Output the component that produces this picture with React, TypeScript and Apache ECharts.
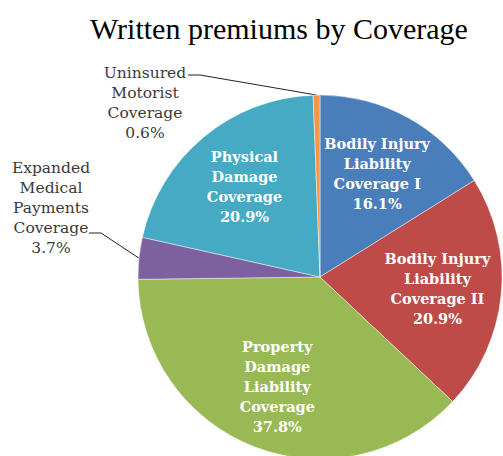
import React, { useEffect, useRef } from "react";
import * as echarts from "echarts";

const titleText = "Written premiums by Coverage";
const categories = [
  "Bodily Injury\nLiability\nCoverage I",
  "Bodily Injury\nLiability\nCoverage II",
  "Property\nDamage\nLiability\nCoverage",
  "Expanded\nMedical\nPayments\nCoverage",
  "Physical\nDamage\nCoverage",
  "Uninsured\nMotorist\nCoverage",
];
const values = [16.1, 20.9, 37.8, 3.7, 20.9, 0.6];
const colors = ["#4A7EBB", "#BE4B48", "#98B954", "#7D60A0", "#46AAC5", "#F79646"];

// label placement for the small slices whose labels sit outside the pie
const outsideLabels: Record<number, { x: number; y: number; bend: number[]; end: number[] }> = {
  3: { x: 51, y: 208, bend: [101, 233], end: [89, 233] },
  5: { x: 145, y: 103, bend: [200, 75], end: [188, 75] },
};

const SERIF = "'DejaVu Serif', serif";
const TITLE_FONT = "'Liberation Serif', 'Times New Roman', serif";

const fmt = (p: any) => `${p.name}\n${Number(p.value).toFixed(1)}%`;

export default function App() {
  const ref = useRef<HTMLDivElement>(null);
  useEffect(() => {
    if (!ref.current) return;
    const chart = echarts.init(ref.current, undefined, { renderer: "svg" });
    const center = [320, 277];
    chart.setOption({
      animation: false,
      backgroundColor: "#ffffff",
      title: {
        text: titleText,
        left: 85,
        top: 8,
        textStyle: {
          fontFamily: TITLE_FONT,
          fontSize: 30,
          fontWeight: "normal",
          color: "#000000",
        },
      },
      series: [
        {
          type: "pie",
          center,
          radius: 182,
          startAngle: 90,
          clockwise: true,
          avoidLabelOverlap: false,
          emphasis: { disabled: true },
          itemStyle: { borderColor: "rgba(255,255,255,0.55)", borderWidth: 0.8 },
          label: { show: false },
          labelLine: { show: false },
          data: categories.map((name, i) => {
            const isOut = outsideLabels[i] != null;
            return {
              name,
              value: values[i],
              itemStyle: { color: colors[i] },
              label: isOut
                ? {
                    show: true,
                    position: "outside",
                    formatter: fmt,
                    color: "#3a3a3a",
                    fontFamily: SERIF,
                    fontSize: 15.5,
                    lineHeight: 20,
                    align: "center",
                  }
                : { show: false },
              labelLine: isOut
                ? { show: true, length: 10, length2: 10, lineStyle: { color: "#222222", width: 1 } }
                : { show: false },
            };
          }),
          labelLayout: (params: any) => {
            const cfg = outsideLabels[params.dataIndex];
            if (!cfg) return {};
            const p0 = params.labelLinePoints ? params.labelLinePoints[0] : cfg.bend;
            return {
              x: cfg.x,
              y: cfg.y,
              align: "center",
              verticalAlign: "middle",
              labelLinePoints: [p0, cfg.bend, cfg.end],
            };
          },
        },
        {
          type: "pie",
          center,
          radius: 230,
          startAngle: 90,
          clockwise: true,
          silent: true,
          avoidLabelOverlap: false,
          emphasis: { disabled: true },
          itemStyle: { color: "rgba(0,0,0,0)", borderWidth: 0 },
          labelLine: { show: false },
          label: {
            show: true,
            position: "inside",
            formatter: fmt,
            color: "#ffffff",
            fontFamily: SERIF,
            fontWeight: "bold",
            fontSize: 14.5,
            lineHeight: 20,
            align: "center",
          },
          data: categories.map((name, i) => ({
            name,
            value: values[i],
            label: { show: outsideLabels[i] == null },
          })),
        },
      ],
    });
    return () => chart.dispose();
  }, []);
  return (
    <div
      ref={ref}
      style={{ position: "fixed", left: 0, top: 0, width: 503, height: 456 }}
    />
  );
}
